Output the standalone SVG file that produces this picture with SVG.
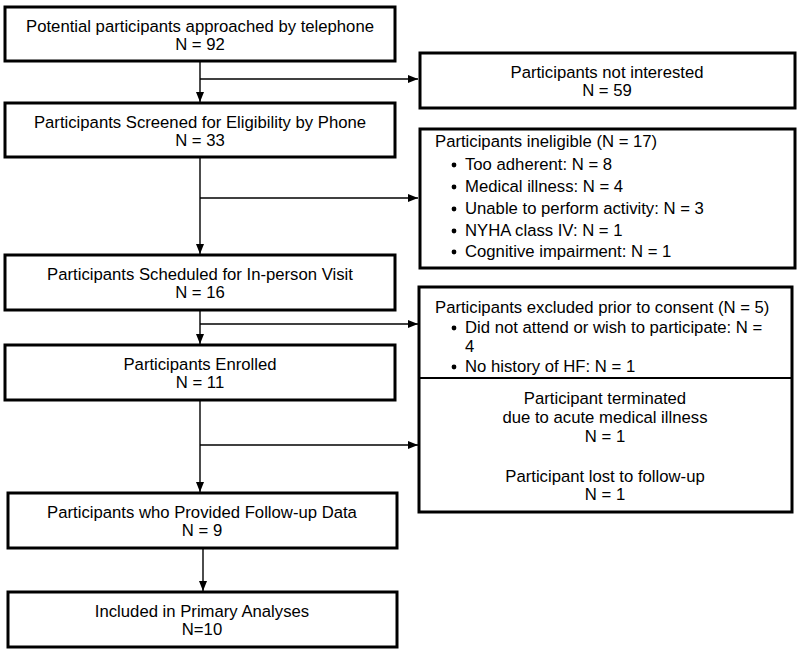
<svg xmlns="http://www.w3.org/2000/svg" width="800" height="655" viewBox="0 0 800 655">
<defs>
<style>
.box{fill:#fff;stroke:#000;stroke-width:3}
.div{stroke:#000;stroke-width:2}
.t{font-family:"Liberation Sans",Arial,sans-serif;font-size:16.7px;fill:#000}
.c{text-anchor:middle}
.ln{fill:none;stroke:#000;stroke-width:1.4}
.bul{fill:#000}
</style>
<marker id="ah" viewBox="0 0 10 8" refX="10" refY="4" markerWidth="10" markerHeight="8" markerUnits="userSpaceOnUse" orient="auto">
<path d="M0,0 L10,4 L0,8 Z" fill="#000"/>
</marker>
</defs>
<rect width="800" height="655" fill="#fff"/>
<g id="connectors">
<path class="ln" d="M200,61 V102" marker-end="url(#ah)"/>
<path class="ln" d="M200,79 H418" marker-end="url(#ah)"/>
<path class="ln" d="M200,157 V254" marker-end="url(#ah)"/>
<path class="ln" d="M200,198 H418" marker-end="url(#ah)"/>
<path class="ln" d="M200,310 V344" marker-end="url(#ah)"/>
<path class="ln" d="M200,324 H418" marker-end="url(#ah)"/>
<path class="ln" d="M200,400 V492" marker-end="url(#ah)"/>
<path class="ln" d="M200,445 H418" marker-end="url(#ah)"/>
<path class="ln" d="M203,548 V591" marker-end="url(#ah)"/>
</g>
<g id="n1">
<rect class="box" x="5" y="7" width="390" height="54"/>
<text class="t c" x="200" y="32">Potential participants approached by telephone</text>
<text class="t c" x="200" y="50">N = 92</text>
</g>
<g id="n2">
<rect class="box" x="420" y="53" width="375" height="55"/>
<text class="t c" x="607" y="78">Participants not interested</text>
<text class="t c" x="607" y="96">N = 59</text>
</g>
<g id="n3">
<rect class="box" x="5" y="103" width="390" height="54"/>
<text class="t c" x="200" y="128">Participants Screened for Eligibility by Phone</text>
<text class="t c" x="200" y="146">N = 33</text>
</g>
<g id="n4">
<rect class="box" x="420" y="129" width="375" height="139"/>
<text class="t" x="435" y="147">Participants ineligible (N = 17)</text>
<circle class="bul" cx="454" cy="165" r="2.4"/>
<text class="t" x="465" y="170">Too adherent: N = 8</text>
<circle class="bul" cx="454" cy="187" r="2.4"/>
<text class="t" x="465" y="192">Medical illness: N = 4</text>
<circle class="bul" cx="454" cy="209" r="2.4"/>
<text class="t" x="465" y="214">Unable to perform activity: N = 3</text>
<circle class="bul" cx="454" cy="231" r="2.4"/>
<text class="t" x="465" y="236">NYHA class IV: N = 1</text>
<circle class="bul" cx="454" cy="252" r="2.4"/>
<text class="t" x="465" y="257">Cognitive impairment: N = 1</text>
</g>
<g id="n5">
<rect class="box" x="5" y="255" width="390" height="55"/>
<text class="t c" x="200" y="280">Participants Scheduled for In-person Visit</text>
<text class="t c" x="200" y="298">N = 16</text>
</g>
<g id="n6">
<rect class="box" x="419" y="287" width="373" height="225"/>
<line class="div" x1="419" y1="378" x2="792" y2="378"/>
<text class="t" x="435" y="313">Participants excluded prior to consent (N = 5)</text>
<circle class="bul" cx="454" cy="328" r="2.4"/>
<text class="t" x="465" y="333">Did not attend or wish to participate: N =</text>
<text class="t" x="465" y="352">4</text>
<circle class="bul" cx="454" cy="367" r="2.4"/>
<text class="t" x="465" y="372">No history of HF: N = 1</text>
</g>
<g id="n7">
<text class="t c" x="605" y="404">Participant terminated</text>
<text class="t c" x="605" y="423">due to acute medical illness</text>
<text class="t c" x="605" y="442">N = 1</text>
<text class="t c" x="605" y="482">Participant lost to follow-up</text>
<text class="t c" x="605" y="500">N = 1</text>
</g>
<g id="n8">
<rect class="box" x="5" y="345" width="390" height="55"/>
<text class="t c" x="200" y="370">Participants Enrolled</text>
<text class="t c" x="200" y="388">N = 11</text>
</g>
<g id="n9">
<rect class="box" x="8" y="493" width="389" height="55"/>
<text class="t c" x="202" y="518">Participants who Provided Follow-up Data</text>
<text class="t c" x="202" y="536">N = 9</text>
</g>
<g id="n10">
<rect class="box" x="8" y="592" width="389" height="55"/>
<text class="t c" x="202" y="617">Included in Primary Analyses</text>
<text class="t c" x="202" y="635">N=10</text>
</g>
</svg>
